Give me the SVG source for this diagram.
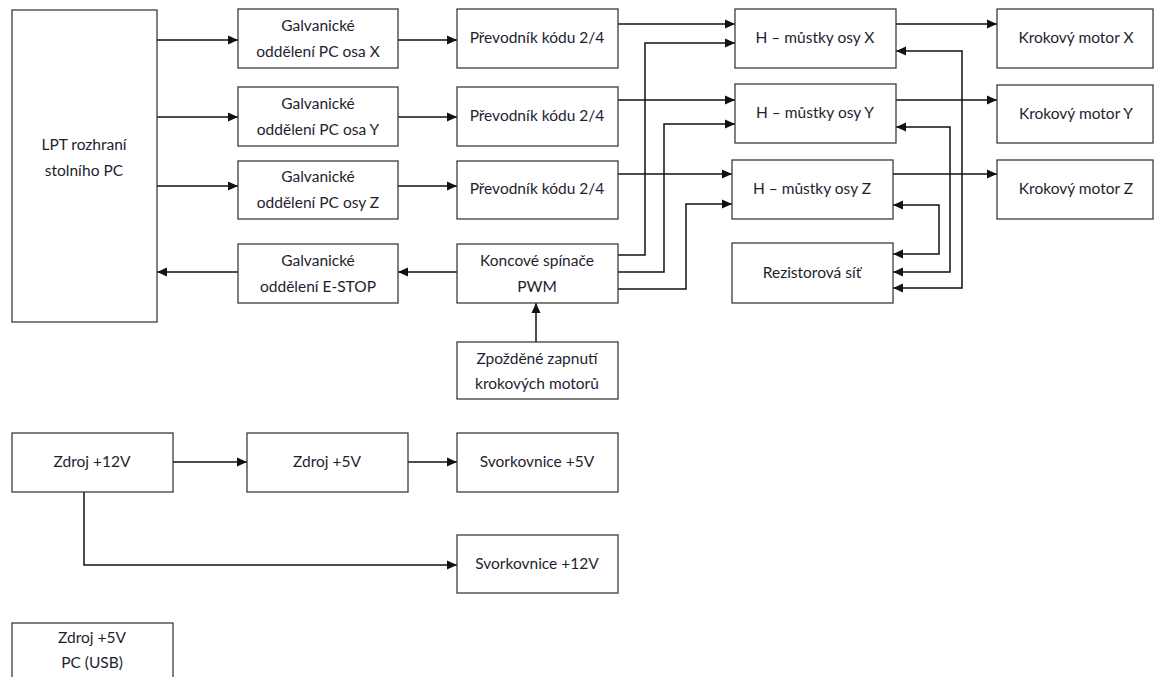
<svg xmlns="http://www.w3.org/2000/svg" width="1154" height="677" viewBox="0 0 1154 677">
<style>
.n rect{fill:#fff;stroke:#3c3c3c;stroke-width:1.3}
.n text{font-family:Lato,"Open Sans",sans-serif;font-size:15.5px;fill:#1e1e30;text-anchor:middle}
.c path{fill:none;stroke:#111;stroke-width:1.5}
</style>
<defs>
<marker id="a" viewBox="0 0 10 10" refX="10" refY="5" markerWidth="10" markerHeight="10" markerUnits="userSpaceOnUse" orient="auto-start-reverse"><path d="M0,0.5 L10,5 L0,9.5 Z" fill="#111"/></marker>
</defs>
<rect width="1154" height="677" fill="#fff"/>
<g class="c">
<path d="M157,40 H238" marker-end="url(#a)"/>
<path d="M157,117 H238" marker-end="url(#a)"/>
<path d="M157,186 H238" marker-end="url(#a)"/>
<path d="M238,272 H157" marker-end="url(#a)"/>
<path d="M457,272 H398" marker-end="url(#a)"/>
<path d="M398,40 H457" marker-end="url(#a)"/>
<path d="M398,117 H457" marker-end="url(#a)"/>
<path d="M398,186 H457" marker-end="url(#a)"/>
<path d="M618,24 H735" marker-end="url(#a)"/>
<path d="M618,100 H735" marker-end="url(#a)"/>
<path d="M618,174 H732" marker-end="url(#a)"/>
<path d="M618,255 H645 V43 H735" marker-end="url(#a)"/>
<path d="M618,272 H664 V124 H735" marker-end="url(#a)"/>
<path d="M618,289 H686 V204 H732" marker-end="url(#a)"/>
<path d="M536,342 V303" marker-end="url(#a)"/>
<path d="M896,24 H997" marker-end="url(#a)"/>
<path d="M896,100 H997" marker-end="url(#a)"/>
<path d="M893,174 H997" marker-end="url(#a)"/>
<path d="M896,51 H962 V288 H893" marker-start="url(#a)" marker-end="url(#a)"/>
<path d="M896,127 H950 V272 H893" marker-start="url(#a)" marker-end="url(#a)"/>
<path d="M893,205 H939 V254 H893" marker-start="url(#a)" marker-end="url(#a)"/>
<path d="M173,462 H247" marker-end="url(#a)"/>
<path d="M408,462 H457" marker-end="url(#a)"/>
<path d="M84,492 V565 H457" marker-end="url(#a)"/>
</g>
<g id="lpt" class="n"><rect x="12" y="10" width="145" height="312"/><text x="84" y="150">LPT rozhraní</text><text x="84" y="176">stolního PC</text></g>
<g id="galvX" class="n"><rect x="238" y="9" width="160" height="59"/><text x="318" y="31">Galvanické</text><text x="318" y="57">oddělení PC osa X</text></g>
<g id="galvY" class="n"><rect x="238" y="87" width="160" height="59"/><text x="318" y="109">Galvanické</text><text x="318" y="135">oddělení PC osa Y</text></g>
<g id="galvZ" class="n"><rect x="238" y="161" width="160" height="58"/><text x="318" y="182">Galvanické</text><text x="318" y="208">oddělení PC osy Z</text></g>
<g id="galvE" class="n"><rect x="238" y="244" width="160" height="59"/><text x="318" y="266">Galvanické</text><text x="318" y="292">oddělení E-STOP</text></g>
<g id="prevX" class="n"><rect x="457" y="9" width="161" height="59"/><text x="537" y="43">Převodník kódu 2/4</text></g>
<g id="prevY" class="n"><rect x="457" y="87" width="161" height="59"/><text x="537" y="121">Převodník kódu 2/4</text></g>
<g id="prevZ" class="n"><rect x="457" y="161" width="161" height="58"/><text x="537" y="194">Převodník kódu 2/4</text></g>
<g id="konc" class="n"><rect x="457" y="244" width="161" height="59"/><text x="537" y="266">Koncové spínače</text><text x="537" y="292">PWM</text></g>
<g id="zpoz" class="n"><rect x="457" y="342" width="161" height="57"/><text x="537" y="364">Zpožděné zapnutí</text><text x="537" y="389">krokových motorů</text></g>
<g id="hX" class="n"><rect x="735" y="9" width="161" height="59"/><text x="815" y="43">H – můstky osy X</text></g>
<g id="hY" class="n"><rect x="735" y="84" width="161" height="59"/><text x="815" y="118">H – můstky osy Y</text></g>
<g id="hZ" class="n"><rect x="732" y="160" width="161" height="59"/><text x="812" y="194">H – můstky osy Z</text></g>
<g id="rez" class="n"><rect x="732" y="243" width="161" height="60"/><text x="812" y="278">Rezistorová síť</text></g>
<g id="motX" class="n"><rect x="997" y="9" width="156" height="59"/><text x="1076" y="43">Krokový motor X</text></g>
<g id="motY" class="n"><rect x="997" y="85" width="156" height="58"/><text x="1076" y="119">Krokový motor Y</text></g>
<g id="motZ" class="n"><rect x="997" y="160" width="156" height="59"/><text x="1076" y="194">Krokový motor Z</text></g>
<g id="z12" class="n"><rect x="12" y="433" width="161" height="59"/><text x="92" y="467">Zdroj +12V</text></g>
<g id="z5" class="n"><rect x="247" y="433" width="161" height="59"/><text x="327" y="467">Zdroj +5V</text></g>
<g id="s5" class="n"><rect x="457" y="433" width="161" height="59"/><text x="537" y="467">Svorkovnice +5V</text></g>
<g id="s12" class="n"><rect x="457" y="535" width="161" height="58"/><text x="537" y="569">Svorkovnice +12V</text></g>
<g id="zusb" class="n"><rect x="12" y="623" width="161" height="70"/><text x="92" y="643">Zdroj +5V</text><text x="92" y="668">PC (USB)</text></g>
</svg>
